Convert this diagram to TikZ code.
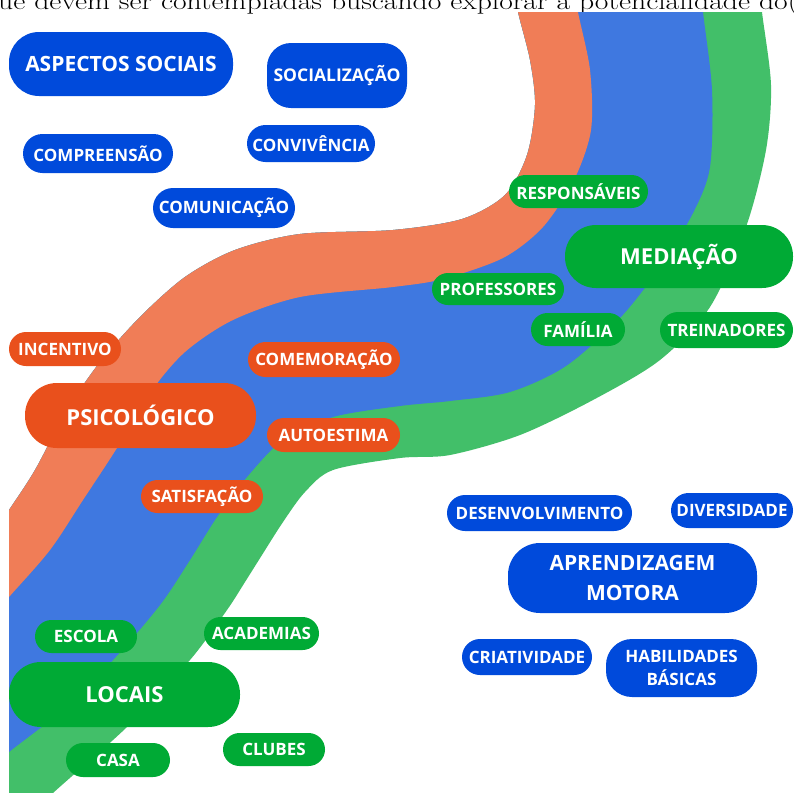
\documentclass[tikz,border=0pt]{standalone}
\usepackage{fontspec}
\newfontfamily\osans{Open Sans}
\definecolor{nodeblue}{RGB}{0,74,219}
\definecolor{bandblue}{RGB}{63,120,224}
\definecolor{bandorange}{RGB}{240,125,87}
\definecolor{nodeorange}{RGB}{233,80,28}
\definecolor{bandgreen}{RGB}{66,191,105}
\definecolor{nodegreen}{RGB}{0,170,53}
\tikzset{
  pill/.style n args={3}{rounded corners=#3pt, minimum width=#1pt, minimum height=#2pt,
    inner sep=0pt, text=white, align=center, font=\osans\bfseries\fontsize{17}{23}\selectfont},
  nb/.style={fill=nodeblue},
  no/.style={fill=nodeorange},
  ng/.style={fill=nodegreen},
  bigtext/.style={font=\osans\bfseries\fontsize{22}{29}\selectfont},
}
\begin{document}
\begin{tikzpicture}[x=1pt,y=-1pt]
\useasboundingbox (0,0) rectangle (793,793);
\fill[white] (0,0) rectangle (793,793);
\node[anchor=base west, inner sep=0pt] (toptext) at (-2,9.5)
  {\resizebox{800pt}{\height}{\fontsize{24}{28}\selectfont ue devem ser contempladas buscando explorar a potencialidade do(}};
\begin{scope}
\clip (9,12) rectangle (793,793);
\fill[bandgreen] plot[smooth, tension=0.5] coordinates {(515,-10) (518,12) (530,60) (535,105) (527,155) (505,195) (462,219) (393,230) (300,234) (235,250) (185,277) (140,317) (100,362) (67,410) (35,470) (9,510) (-25,560)}
  -- (-60,900)
  -- plot[smooth, tension=0.5] coordinates {(15,830) (53,793) (127,727) (190,660) (227,610) (245,582) (262,555) (283,522) (305,492) (333,470) (400,458) (450,455) (520,435) (593,400) (660,360) (710,307) (746,227) (766,150) (771,85) (762,12) (761,-10)}
  -- cycle;
\fill[bandblue] plot[smooth, tension=0.5] coordinates {(515,-10) (518,12) (530,60) (535,105) (527,155) (505,195) (462,219) (393,230) (300,234) (235,250) (185,277) (140,317) (100,362) (67,410) (35,470) (9,510) (-25,560)}
  -- (-60,900)
  -- plot[smooth, tension=0.5] coordinates {(-30,785) (9,752) (60,712) (113,660) (160,605) (190,560) (217,517) (247,477) (283,440) (333,417) (400,406) (450,401) (510,392) (566,366) (620,318) (660,267) (693,213) (710,167) (712,90) (703,12) (702,-10)}
  -- cycle;
\fill[bandorange] plot[smooth, tension=0.5] coordinates {(515,-10) (518,12) (530,60) (535,105) (527,155) (505,195) (462,219) (393,230) (300,234) (235,250) (185,277) (140,317) (100,362) (67,410) (35,470) (9,510) (-25,560)}
  -- (-60,900)
  -- plot[smooth, tension=0.5] coordinates {(-25,635) (9,597) (50,550) (83,500) (117,448) (150,393) (185,352) (233,320) (300,297) (393,287) (443,279) (503,258) (543,227) (574,180) (591,130) (590,70) (578,12) (576,-10)}
  -- cycle;
\end{scope}
% blue nodes
\node[nb, pill={224}{64}{30}, font=\osans\bfseries\fontsize{21}{26}\selectfont] (aspectos) at (121,64) {ASPECTOS SOCIAIS};
\node[nb, pill={140}{65}{24}, font=\osans\bfseries\fontsize{17.5}{22}\selectfont] (socializacao) at (337,75.5) {SOCIALIZAÇÃO};
\node[nb, pill={150}{39}{19.5}] (compreensao) at (98,153.5) {COMPREENSÃO};
\node[nb, pill={128}{37}{18.5}] (convivencia) at (311,143.5) {CONVIVÊNCIA};
\node[nb, pill={142}{40}{20}] (comunicacao) at (224,208) {COMUNICAÇÃO};
\node[nb, pill={185}{36}{18}] (desenvolvimento) at (539.5,513) {DESENVOLVIMENTO};
\node[nb, pill={122}{35}{17.5}] (diversidade) at (732,510.5) {DIVERSIDADE};
\node[nb, pill={249}{70}{32}, font=\osans\bfseries\fontsize{21}{30}\selectfont] (aprendizagem) at (632.5,578) {APRENDIZAGEM\\MOTORA};
\node[nb, pill={130}{36}{18}] (criatividade) at (527,657) {CRIATIVIDADE};
\node[nb, pill={151}{58}{26}] (habilidades) at (681.5,668) {HABILIDADES\\BÁSICAS};
% orange nodes
\node[no, pill={112}{34}{17}] (incentivo) at (65,349) {INCENTIVO};
\node[no, pill={152}{35}{17.5}] (comemoracao) at (324,359.5) {COMEMORAÇÃO};
\node[no, pill={231}{65}{32}, bigtext] (psicologico) at (140.5,415.5) {PSICOLÓGICO};
\node[no, pill={133}{34}{17}] (autoestima) at (333.5,435) {AUTOESTIMA};
\node[no, pill={122}{33}{16.5}] (satisfacao) at (202,496.5) {SATISFAÇÃO};
% green nodes
\node[ng, pill={139}{33}{16.5}] (responsaveis) at (578.5,191.5) {RESPONSÁVEIS};
\node[ng, pill={228}{63}{31}, bigtext] (mediacao) at (679,256.5) {MEDIAÇÃO};
\node[ng, pill={132}{32}{16}] (professores) at (498,289) {PROFESSORES};
\node[ng, pill={94}{33}{16.5}] (familia) at (578,329.5) {FAMÍLIA};
\node[ng, pill={133}{36}{18}] (treinadores) at (726.5,330) {TREINADORES};
\node[ng, pill={102}{33}{16.5}] (escola) at (86,636.5) {ESCOLA};
\node[ng, pill={115}{33}{16.5}] (academias) at (261.5,633.5) {ACADEMIAS};
\node[ng, pill={231}{65}{32}, bigtext] (locais) at (124.5,694.5) {LOCAIS};
\node[ng, pill={104}{34}{17}] (casa) at (118,760) {CASA};
\node[ng, pill={102}{33}{16.5}] (clubes) at (274,749.5) {CLUBES};
\end{tikzpicture}
\end{document}
